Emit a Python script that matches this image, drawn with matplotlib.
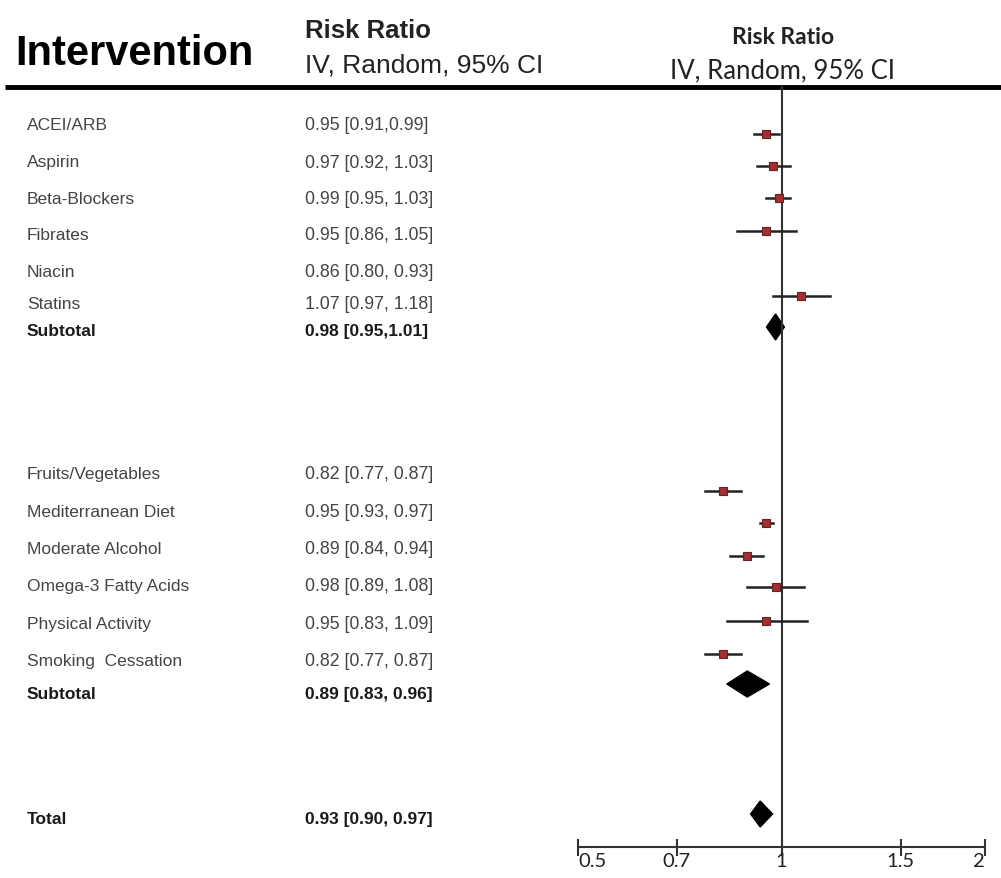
import matplotlib.pyplot as plt
from matplotlib.patches import Polygon

# Datos del forest plot
nombres_1 = ['ACEI/ARB', 'Aspirin', 'Beta-Blockers', 'Fibrates', 'Niacin', 'Statins']
rr_1 = [0.95, 0.97, 0.99, 0.95, 0.86, 1.07]
bajo_1 = [0.91, 0.92, 0.95, 0.86, 0.80, 0.97]
alto_1 = [0.99, 1.03, 1.03, 1.05, 0.93, 1.18]
etiquetas_1 = ['0.95 [0.91,0.99]', '0.97 [0.92, 1.03]', '0.99 [0.95, 1.03]',
               '0.95 [0.86, 1.05]', '0.86 [0.80, 0.93]', '1.07 [0.97, 1.18]']
dibujado_1 = [True, True, True, True, False, True]  # Niacin no aparece en la figura

nombres_2 = ['Fruits/Vegetables', 'Mediterranean Diet', 'Moderate Alcohol',
             'Omega-3 Fatty Acids', 'Physical Activity', 'Smoking  Cessation']
rr_2 = [0.82, 0.95, 0.89, 0.98, 0.95, 0.82]
bajo_2 = [0.77, 0.93, 0.84, 0.89, 0.83, 0.77]
alto_2 = [0.87, 0.97, 0.94, 1.08, 1.09, 0.87]
etiquetas_2 = ['0.82 [0.77, 0.87]', '0.95 [0.93, 0.97]', '0.89 [0.84, 0.94]',
               '0.98 [0.89, 1.08]', '0.95 [0.83, 1.09]', '0.82 [0.77, 0.87]']
dibujado_2 = [True, True, True, True, True, True]

subtotales = [(0.98, 0.95, 1.01), (0.89, 0.83, 0.96)]
etiquetas_sub = ['0.98 [0.95,1.01]', '0.89 [0.83, 0.96]']
total = (0.93, 0.90, 0.97)
etiqueta_total = '0.93 [0.90, 0.97]'

ticks = [0.5, 0.7, 1, 1.5, 2]
tick_labels = ['0.5', '0.7', '1', '1.5', '2']

# posiciones verticales (en pixeles)
y_texto_1 = [125, 163, 200, 236, 273, 305]
y_marca_1 = [135, 167, 199, 232, 273, 297]
y_texto_2 = [475, 513, 550, 587, 625, 662]
y_marca_2 = [492, 524, 557, 588, 622, 655]
y_texto_sub = [332, 695]
y_marca_sub = [328, 685]
y_texto_total = 820
y_marca_total = 815

W, H = 1001, 879
fig = plt.figure(figsize=(W / 100, H / 100), dpi=100)

fondo = fig.add_axes([0, 0, 1, 1])
fondo.set_xlim(0, W)
fondo.set_ylim(H, 0)
fondo.axis('off')

# cabeceras
fondo.text(15, 54, 'Intervention', fontsize=30, fontweight='bold',
           family='Liberation Sans', va='center', ha='left')
fondo.text(305, 31, 'Risk Ratio', fontsize=18.5, fontweight='bold',
           family='Liberation Sans', va='center', ha='left', color='#222222')
fondo.text(305, 66, 'IV, Random, 95% CI', fontsize=19,
           family='Liberation Sans', va='center', ha='left', color='#222222')
fondo.text(783, 38, 'Risk Ratio', fontsize=16.5, fontweight='bold',
           family='Lato', va='center', ha='center', color='#222222')
fondo.text(783, 71, 'IV, Random, 95% CI', fontsize=18.5,
           family='Lato', va='center', ha='center', color='#222222')
fondo.plot([5, W], [88, 88], color='black', lw=3.5, solid_capstyle='butt')

gris = '#444444'
for nombres, etiquetas, ys in [(nombres_1, etiquetas_1, y_texto_1),
                               (nombres_2, etiquetas_2, y_texto_2)]:
    for n, e, y in zip(nombres, etiquetas, ys):
        fondo.text(27, y, n, fontsize=12.5, family='Liberation Sans',
                   va='center', color=gris)
        fondo.text(305, y, e, fontsize=12.8, family='Liberation Sans',
                   va='center', color=gris)

for e, y in zip(etiquetas_sub, y_texto_sub):
    fondo.text(27, y, 'Subtotal', fontsize=12.5, fontweight='bold',
               family='Liberation Sans', va='center', color='#1a1a1a')
    fondo.text(305, y, e, fontsize=12.5, fontweight='bold',
               family='Liberation Sans', va='center', color='#1a1a1a')
fondo.text(27, y_texto_total, 'Total', fontsize=12.5, fontweight='bold',
           family='Liberation Sans', va='center', color='#1a1a1a')
fondo.text(305, y_texto_total, etiqueta_total, fontsize=12.5, fontweight='bold',
           family='Liberation Sans', va='center', color='#1a1a1a')

# panel del forest plot (escala logaritmica)
ax = fig.add_axes([578 / W, 0, (985 - 578) / W, 1])
ax.patch.set_alpha(0)
ax.set_xscale('log')
ax.set_xlim(0.5, 2)
ax.set_ylim(H, 0)
ax.axis('off')

ax.plot([1, 1], [88, 856], color='#333333', lw=1.5, clip_on=False)

for rr, lo, hi, ys, dib in [(rr_1, bajo_1, alto_1, y_marca_1, dibujado_1),
                            (rr_2, bajo_2, alto_2, y_marca_2, dibujado_2)]:
    for r, l, h, y, d in zip(rr, lo, hi, ys, dib):
        if not d:
            continue
        ax.plot([l, h], [y, y], color='#222222', lw=1.8)
        ax.plot(r, y, marker='s', ms=5.5, color='#a33030', mec='#6a2020', mew=0.8)

alto_diamante = 13
for (r, l, h), y in zip(subtotales + [total], y_marca_sub + [y_marca_total]):
    ax.add_patch(Polygon([(l, y), (r, y - alto_diamante), (h, y), (r, y + alto_diamante)],
                         closed=True, color='black'))

# eje inferior
ax.plot([0.5, 2], [848, 848], color='#333333', lw=1.5, clip_on=False)
ax.vlines(ticks, 840, 857, color='#333333', lw=1.5, clip_on=False)
alineacion = ['left', 'center', 'center', 'center', 'right']
for t, lab, a in zip(ticks, tick_labels, alineacion):
    ax.text(t, 853, lab, fontsize=14.5, family='Lato', va='top', ha=a,
            color='#222222', clip_on=False)

plt.savefig('out.png', dpi=100)
